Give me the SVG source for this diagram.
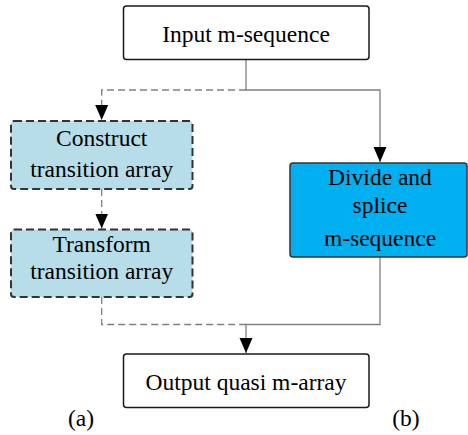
<svg xmlns="http://www.w3.org/2000/svg" width="468" height="435" viewBox="0 0 468 435">
<defs>
<marker id="arr" markerWidth="15" markerHeight="14" refX="15" refY="7" orient="auto" markerUnits="userSpaceOnUse">
<path d="M0,0.5 L15,7 L0,13.5 Z" fill="#000"/>
</marker>
<style>
text{font-family:"Liberation Serif","Times New Roman",serif;font-size:23.5px;fill:#000;text-anchor:middle}
.solidbox{fill:#fff;stroke:#1a1a1a;stroke-width:1.5}
.dashbox{fill:#b7dde8;stroke:#333;stroke-width:2;stroke-dasharray:8 4}
.bluebox{fill:#00b0f0;stroke:#333;stroke-width:1.5}
.c{fill:none;stroke:#808080;stroke-width:1.3}
.cd{fill:none;stroke:#808080;stroke-width:1.3;stroke-dasharray:7 4}
</style>
</defs>
<g id="connectors">
<path class="c" d="M246,59.5 V90 H380 V162" marker-end="url(#arr)"/>
<path class="cd" d="M246,90 H101.7 V120" marker-end="url(#arr)"/>
<path class="cd" d="M101.7,189 V228.5" marker-end="url(#arr)"/>
<path class="cd" d="M101.7,297 V324.5 H246"/>
<path class="c" d="M380,257 V324.5 H246 V353" marker-end="url(#arr)"/>
</g>
<g id="input">
<rect class="solidbox" x="123.5" y="6" width="245.5" height="53.5" rx="3"/>
<text x="246" y="41.5">Input m-sequence</text>
</g>
<g id="construct">
<rect class="dashbox" x="11" y="121" width="181.5" height="68" rx="3"/>
<text x="101.7" y="145.5">Construct</text>
<text x="101.7" y="176.5">transition array</text>
</g>
<g id="transform">
<rect class="dashbox" x="11" y="229.5" width="181.5" height="67.5" rx="3"/>
<text x="101.7" y="251.5">Transform</text>
<text x="101.7" y="278.5">transition array</text>
</g>
<g id="divide">
<rect class="bluebox" x="290" y="163" width="177" height="94" rx="3"/>
<text x="380" y="185">Divide and</text>
<text x="380" y="213">splice</text>
<text x="380" y="246">m-sequence</text>
</g>
<g id="output">
<rect class="solidbox" x="123.5" y="354" width="245.5" height="53.5" rx="3"/>
<text x="246" y="389.5">Output quasi m-array</text>
</g>
<g id="labels">
<text x="81" y="426">(a)</text>
<text x="406" y="426">(b)</text>
</g>
</svg>
